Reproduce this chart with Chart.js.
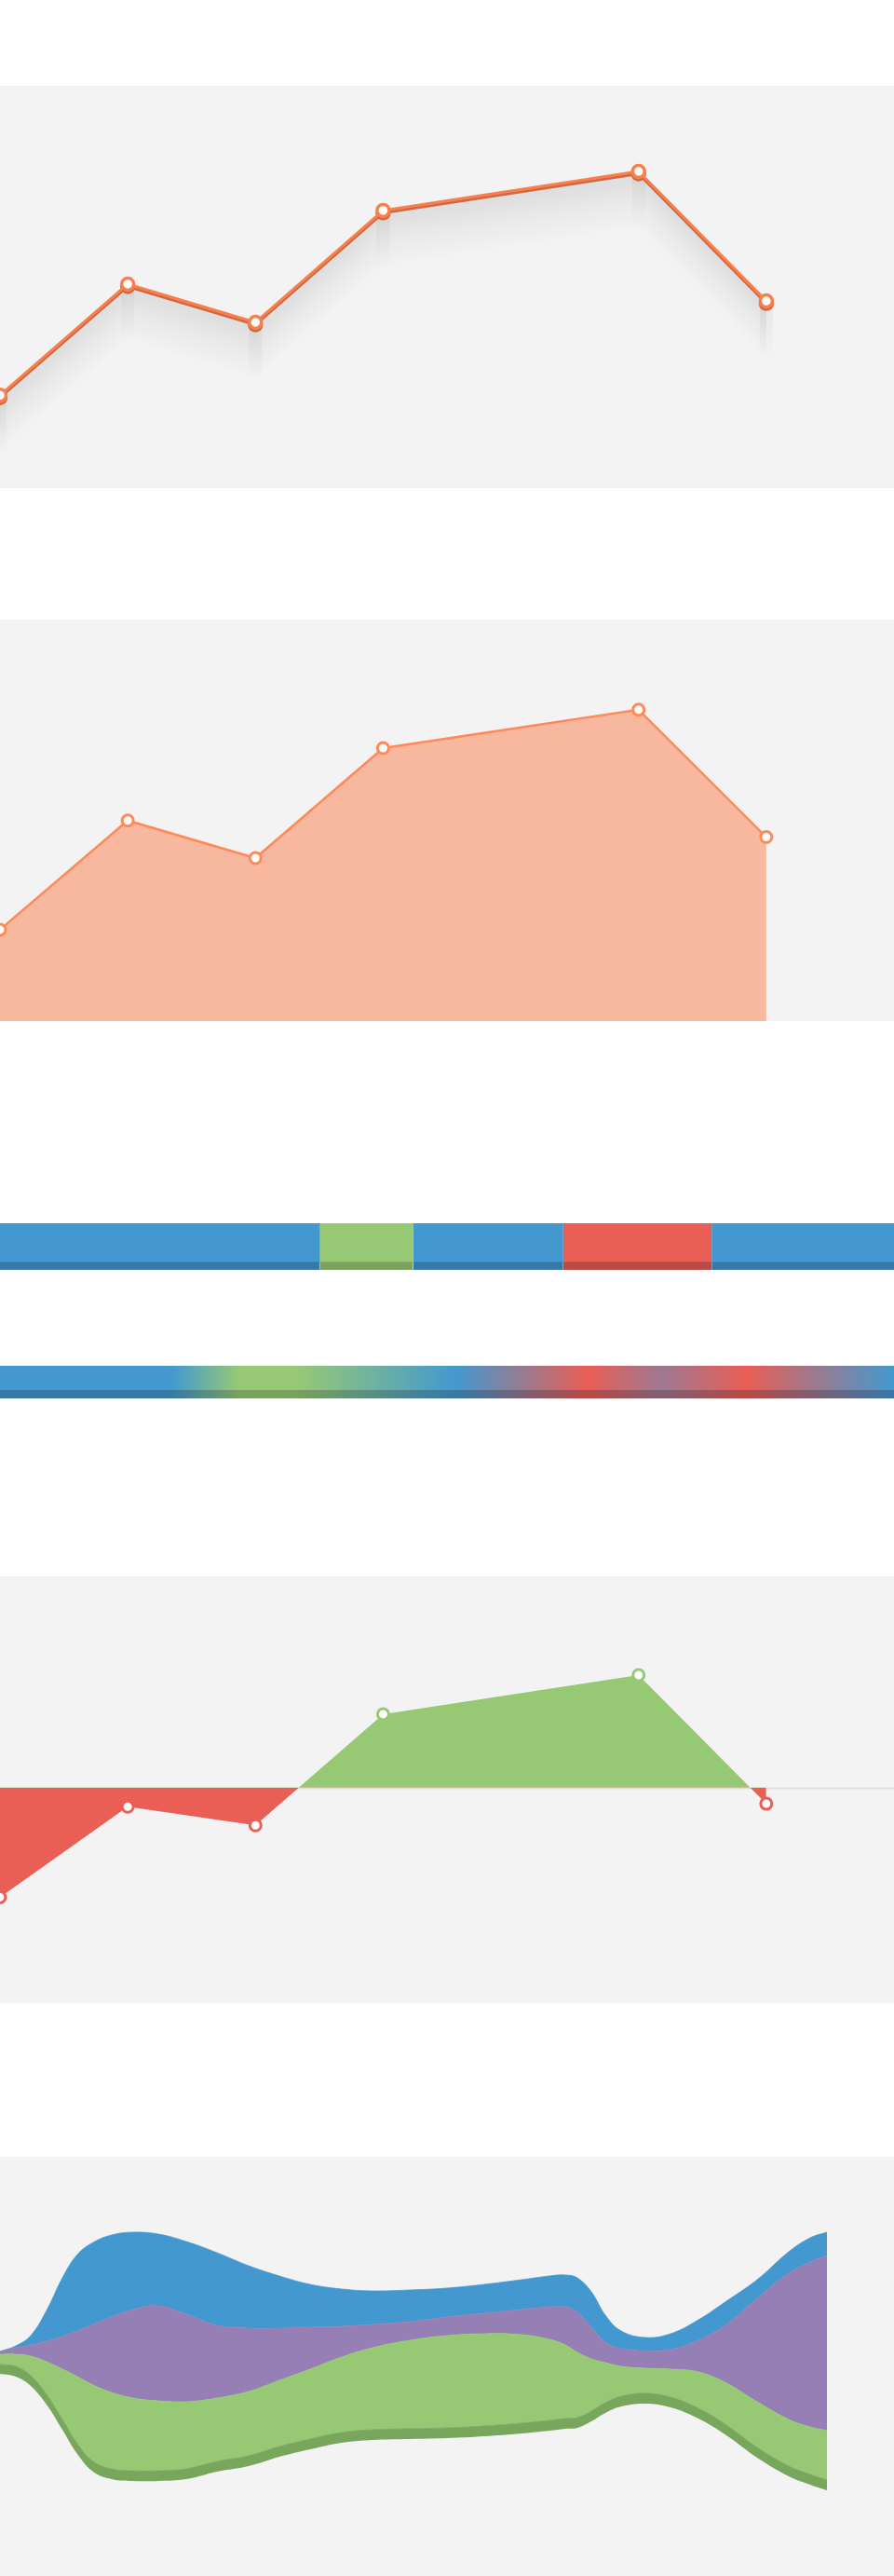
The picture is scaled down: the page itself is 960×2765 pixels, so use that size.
<!DOCTYPE html>
<html>
<head>
<meta charset="utf-8">
<script src="https://cdn.jsdelivr.net/npm/chart.js@4.4.1/dist/chart.umd.min.js"></script>
<style>
html,body{margin:0;padding:0;background:#fff;}
body{width:960px;height:2765px;position:relative;overflow:hidden;font-family:"Open Sans",sans-serif;}
.box{position:absolute;left:0;width:960px;}
.panel{background:#f3f3f3;}
</style>
</head>
<body>
<div class="box panel" style="top:92px;height:432px"><canvas id="c1"></canvas></div>
<div class="box panel" style="top:665px;height:431px"><canvas id="c2"></canvas></div>
<div class="box" style="top:1313px;height:50px"><canvas id="c3"></canvas></div>
<div class="box" style="top:1466px;height:35px"><canvas id="c4"></canvas></div>
<div class="box panel" style="top:1692px;height:458px"><canvas id="c5"></canvas></div>
<div class="box panel" style="top:2315px;height:450px"><canvas id="c6"></canvas></div>
<script>
// ---------- DATA ----------
const categories = ['1', '2', '3', '4', '5', '6', '7', '8'];
const trendValues = [23.1, 50.7, 41.2, 69.0, null, 78.7, 46.5, null];
const deltaValues = [-51.4, -9.0, -17.7, 34.4, null, 52.7, -7.6, null];

const timelineStates = ['normal', 'up', 'normal', 'down', 'normal'];
const timelineShares = [35.8, 10.4, 16.8, 16.6, 20.4];
const gradientTotal = [100];

const streamX      = [0, 17, 33, 50, 67, 83, 100, 120, 143, 170, 200, 233, 267, 300, 333, 367, 400, 440, 480, 520, 560, 590, 607, 620, 635, 650, 667, 693, 720, 750, 780, 813, 847, 870, 888];
const streamBase   = [217, 214, 204, 184, 157, 131, 112, 104, 102, 102, 104, 112, 118, 128, 136, 143, 146, 147, 148, 150, 153, 156, 158, 159, 166, 175, 182, 185, 181, 169, 151, 127, 107, 98, 92];
const streamDark   = [10, 11, 11, 11, 11, 11, 11, 11, 11, 11, 11, 11, 11, 11, 11, 11, 11, 11, 11, 11, 11, 11, 11, 11, 11, 11, 11, 11, 11, 11, 11, 11, 11, 11, 11];
const streamGreen  = [11, 13, 21, 35, 54, 72, 82, 82, 78, 75, 72, 68, 69, 71, 75, 81, 88, 95, 99, 99, 95, 87, 79, 70, 56, 43, 32, 27, 30, 39, 45, 49, 50, 51, 53];
const streamPurple = [3, 7, 12, 22, 35, 49, 65, 81, 95, 102, 94, 78, 68, 56, 45, 33, 25, 20, 20, 22, 27, 35, 41, 43, 34, 22, 19, 19, 21, 34, 63, 111, 157, 177, 188];
const streamBlue   = [0, 2, 10, 33, 63, 82, 88, 88, 83, 77, 78, 78, 67, 56, 46, 40, 36, 34, 31, 31, 32, 33, 34, 37, 38, 29, 19, 14, 17, 22, 25, 20, 23, 26, 25];

// ---------- STYLE ----------
const BLUE = '#4399cf', GREEN = '#97c975', RED = '#e95e55', PURPLE = '#967fb5', DKGREEN = '#79a65d';
const stateColor = {normal: BLUE, up: GREEN, down: RED};
const stateDark = {normal: '#3679a7', up: '#7aa15e', down: '#b94a45'};

function baseOpts(yMin, yMax) {
  return {
    responsive: true, maintainAspectRatio: false, animation: false, events: [],
    layout: {padding: 0, autoPadding: false},
    plugins: {legend: {display: false}, tooltip: {enabled: false}},
    scales: {
      x: {display: false, offset: false},
      y: {display: false, min: yMin, max: yMax}
    }
  };
}

// long shadow under the line of chart 1
const lineShadow = {
  id: 'lineShadow',
  beforeDatasetDraw(chart, args) {
    const pts = args.meta.data.filter(p => !p.skip && isFinite(p.y));
    const ctx = chart.ctx;
    const L = 62;
    ctx.save();
    for (let i = 0; i < pts.length - 1; i++) {
      const a = pts[i], b = pts[i + 1];
      const dx = b.x - a.x, dy = b.y - a.y;
      const len = Math.hypot(dx, dy);
      let nx = -dy / len, ny = dx / len;
      if (ny < 0) { nx = -nx; ny = -ny; }
      const d = L * ny;
      const g = ctx.createLinearGradient(a.x, a.y, a.x + nx * d, a.y + ny * d);
      g.addColorStop(0, 'rgba(0,0,0,0.095)');
      g.addColorStop(0.45, 'rgba(0,0,0,0.045)');
      g.addColorStop(1, 'rgba(0,0,0,0)');
      ctx.fillStyle = g;
      ctx.beginPath();
      ctx.moveTo(a.x, a.y); ctx.lineTo(b.x, b.y);
      ctx.lineTo(b.x, b.y + L); ctx.lineTo(a.x, a.y + L);
      ctx.closePath(); ctx.fill();
    }
    pts.forEach(p => {
      const g = ctx.createLinearGradient(0, p.y, 0, p.y + L);
      g.addColorStop(0, 'rgba(0,0,0,0.05)');
      g.addColorStop(1, 'rgba(0,0,0,0)');
      ctx.fillStyle = g;
      ctx.fillRect(p.x - 7, p.y, 14, L);
    });
    // darker offset edge
    ctx.strokeStyle = '#d3673f';
    ctx.lineWidth = 3;
    ctx.lineJoin = 'round';
    ctx.beginPath();
    pts.forEach((p, i) => i ? ctx.lineTo(p.x, p.y + 2.5) : ctx.moveTo(p.x, p.y + 2.5));
    ctx.stroke();
    ctx.fillStyle = '#d3673f';
    pts.forEach(p => { ctx.beginPath(); ctx.arc(p.x, p.y + 2.5, 8.2, 0, Math.PI * 2); ctx.fill(); });
    ctx.restore();
  }
};

// chart 1
new Chart(document.getElementById('c1'), {
  type: 'line',
  data: {labels: categories, datasets: [{
    data: trendValues, spanGaps: true, tension: 0, fill: false,
    borderColor: '#f7804e', borderWidth: 3, borderJoinStyle: 'round',
    pointRadius: 6.5, pointBorderWidth: 3.5,
    pointBackgroundColor: '#ffffff', pointBorderColor: '#f7804e'
  }]},
  options: baseOpts(0, 100),
  plugins: [lineShadow]
});

// chart 2
new Chart(document.getElementById('c2'), {
  type: 'line',
  data: {labels: categories, datasets: [{
    data: trendValues, spanGaps: true, tension: 0, fill: 'start',
    backgroundColor: '#f8b8a0',
    borderColor: '#ff8a57', borderWidth: 2.5,
    pointRadius: 6, pointBorderWidth: 3,
    pointBackgroundColor: '#ffffff', pointBorderColor: '#ff8a57'
  }]},
  options: baseOpts(0, 101.5)
});

// chart 3: state timeline
(function () {
  const o = baseOpts();
  o.indexAxis = 'y';
  o.scales = {
    x: {display: false, stacked: true, min: 0, max: 100},
    y: {display: false, stacked: true}
  };
  new Chart(document.getElementById('c3'), {
    type: 'bar',
    data: {labels: ['timeline'], datasets: timelineShares.map((v, i) => ({
      data: [v],
      backgroundColor: stateColor[timelineStates[i]],
      borderColor: stateDark[timelineStates[i]],
      borderWidth: {top: 0, right: 0, bottom: 9, left: 0},
      borderSkipped: false, inflateAmount: 0.6,
      barPercentage: 1, categoryPercentage: 1
    }))},
    options: o
  });
})();

// chart 4: gradient timeline
(function () {
  const stops = [
    [0, BLUE, '#3679a7'], [0.192, BLUE, '#3679a7'], [0.268, GREEN, '#7aa15e'],
    [0.331, GREEN, '#7aa15e'], [0.51, BLUE, '#3679a7'], [0.657, RED, '#b94a45'],
    [0.74, '#9d7893', '#7e6076'], [0.835, RED, '#b94a45'], [1, BLUE, '#3679a7']
  ];
  function grad(chart, k) {
    const a = chart.chartArea;
    if (!a) return BLUE;
    const g = chart.ctx.createLinearGradient(a.left, 0, a.right, 0);
    stops.forEach(s => g.addColorStop(s[0], s[k]));
    return g;
  }
  const o = baseOpts();
  o.indexAxis = 'y';
  o.scales = {
    x: {display: false, min: 0, max: 100},
    y: {display: false}
  };
  new Chart(document.getElementById('c4'), {
    type: 'bar',
    data: {labels: ['gradient'], datasets: [{
      data: gradientTotal,
      backgroundColor: c => grad(c.chart, 1),
      borderColor: c => grad(c.chart, 2),
      borderWidth: {top: 0, right: 0, bottom: 9, left: 0},
      borderSkipped: false, inflateAmount: 0,
      barPercentage: 1, categoryPercentage: 1
    }]},
    options: o
  });
})();

// chart 5: positive / negative fill
const zeroLine = {
  id: 'zeroLine',
  beforeDatasetsDraw(chart) {
    const y = Math.round(chart.scales.y.getPixelForValue(0)) + 0.5;
    const a = chart.chartArea, ctx = chart.ctx;
    ctx.save();
    ctx.strokeStyle = '#dcdcdc'; ctx.lineWidth = 1.5;
    ctx.beginPath(); ctx.moveTo(a.left, y); ctx.lineTo(a.right, y); ctx.stroke();
    ctx.restore();
  }
};
new Chart(document.getElementById('c5'), {
  type: 'line',
  data: {labels: categories, datasets: [{
    data: deltaValues, spanGaps: true, tension: 0,
    fill: {target: {value: 0}, above: GREEN, below: RED},
    borderColor: 'rgba(0,0,0,0)', borderWidth: 0,
    pointRadius: 6, pointBorderWidth: 3,
    pointBackgroundColor: '#ffffff',
    pointBorderColor: c => (c.raw < 0 ? RED : GREEN)
  }]},
  options: baseOpts(-101, 99),
  plugins: [zeroLine]
});

// chart 6: streamgraph
(function () {
  const layers = [
    {values: streamBase, color: 'rgba(0,0,0,0)', fill: false},
    {values: streamDark, color: DKGREEN, fill: '-1'},
    {values: streamGreen, color: GREEN, fill: '-1'},
    {values: streamPurple, color: PURPLE, fill: '-1'},
    {values: streamBlue, color: BLUE, fill: '-1'}
  ];
  const o = baseOpts(0, 450);
  o.scales.x = {type: 'linear', display: false, min: 0, max: 960};
  o.scales.y = {display: false, stacked: true, min: 0, max: 450};
  new Chart(document.getElementById('c6'), {
    type: 'line',
    data: {datasets: layers.map(l => ({
      data: streamX.map((x, i) => ({x: x, y: l.values[i]})),
      backgroundColor: l.color,
      borderColor: l.color,
      borderWidth: l.fill ? 0.8 : 0,
      pointRadius: 0,
      fill: l.fill,
      tension: 0.4
    }))},
    options: o
  });
})();
</script>
</body>
</html>
